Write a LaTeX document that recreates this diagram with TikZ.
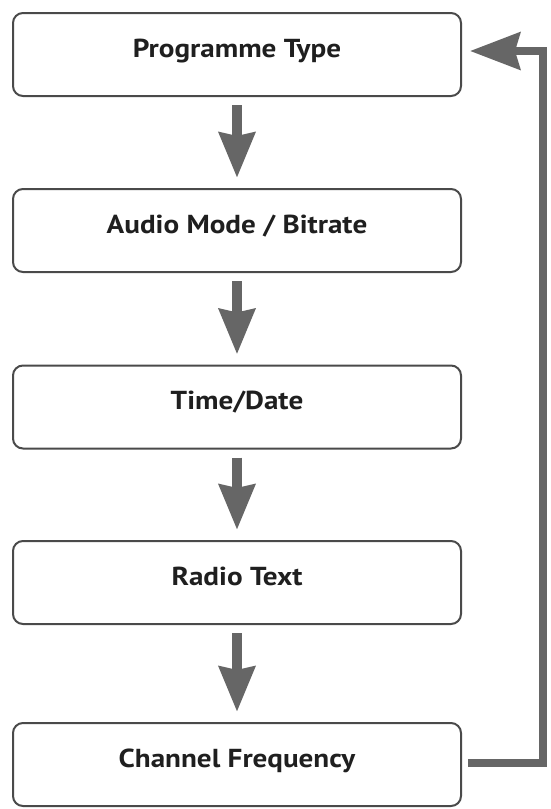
\documentclass[tikz,border=0pt]{standalone}
\usepackage{fontspec}
\setmainfont{PT Sans}[FakeStretch=1.12]
\usetikzlibrary{arrows.meta}
\definecolor{boxline}{HTML}{4A4A4A}
\definecolor{arrowgray}{HTML}{666666}
\begin{document}
\begin{tikzpicture}[x=1pt,y=-1pt,
  stage/.style={draw=boxline, line width=2pt, rounded corners=10pt, fill=white,
    minimum width=448pt, minimum height=83pt, inner sep=0pt,
    text height=18pt, text depth=13pt,
    font=\bfseries\fontsize{26}{30}\selectfont, text=black!88},
  flow/.style={draw=arrowgray, line width=10pt,
    -{Stealth[length=45pt, width=35pt, inset=3pt]}, shorten <=8pt, shorten >=10pt},
  back/.style={draw=arrowgray, line width=8pt,
    -{Stealth[length=50pt, width=37pt, inset=5pt]}}]
\useasboundingbox (0,0) rectangle (551,809);
\node[stage] (pt) at (237,54.5) {Programme Type};
\node[stage] (am) at (237,230.5) {Audio Mode / Bitrate};
\node[stage] (td) at (237,407) {Time/Date};
\node[stage] (rt) at (237,582.5) {Radio Text};
\node[stage] (cf) at (237,764.5) {Channel Frequency};
\draw[flow] (pt) -- (am);
\draw[flow] (am) -- (td);
\draw[flow] (td) -- (rt);
\draw[flow] (rt) -- (cf);
\coordinate (s) at (468,763);
\coordinate (c1) at (543,763);
\coordinate (c2) at (543,51);
\coordinate (e) at (470,51);
\draw[back, line cap=butt] (s) -- (c1) -- (c2) -- (e);
\end{tikzpicture}
\end{document}
